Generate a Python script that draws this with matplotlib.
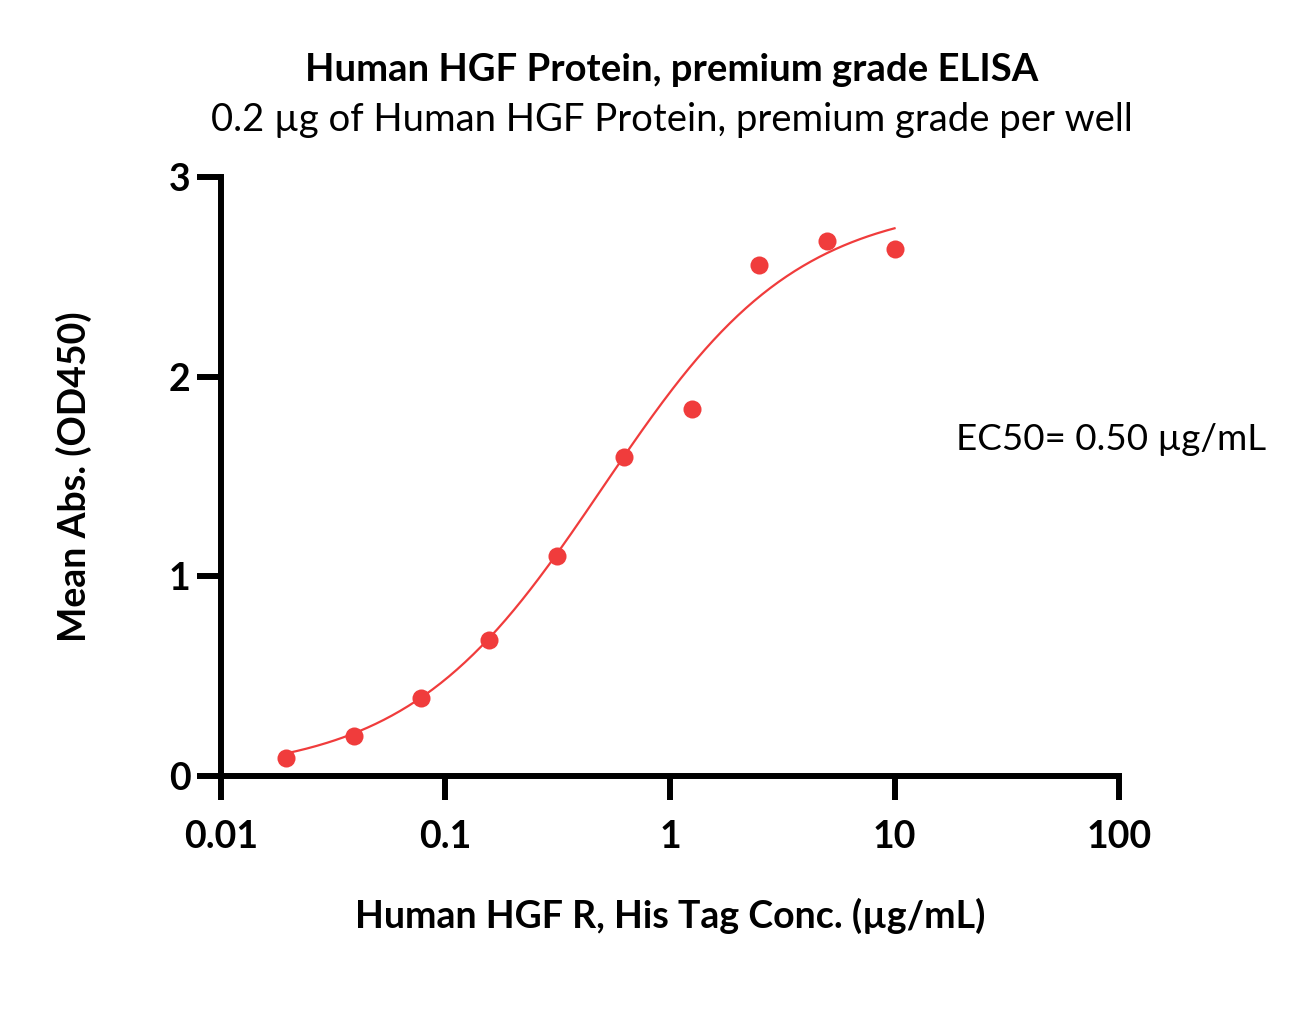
import numpy as np
import matplotlib
matplotlib.use("Agg")
import matplotlib.pyplot as plt

conc = [0.0195, 0.039, 0.078, 0.156, 0.3125, 0.625, 1.25, 2.5, 5.0, 10.0]
absorb = [0.09, 0.20, 0.39, 0.68, 1.10, 1.60, 1.84, 2.56, 2.68, 2.64]

# 4PL fit parameters
bottom, top, ec50, hill = 0.005, 2.88, 0.50, 1.0

x_ticks = [0.01, 0.1, 1, 10, 100]
x_ticklabels = ["0.01", "0.1", "1", "10", "100"]
y_ticks = [0, 1, 2, 3]

plt.rcParams['font.family'] = ['Lato', 'DejaVu Sans']

fig = plt.figure(figsize=(13.09, 10.32), dpi=100)
ax = fig.add_axes([0.1688, 0.2481, 0.6861, 0.5804])

red = '#F03C3C'
xs = np.logspace(np.log10(min(conc)), np.log10(max(conc)), 300)
ys = bottom + (top - bottom) / (1 + (ec50 / xs) ** hill)
ax.plot(xs, ys, color=red, lw=1.6, zorder=2)
ax.plot(conc, absorb, 'o', color=red, markersize=13, markeredgewidth=0, zorder=3)

ax.set_xscale('log')
ax.set_xlim(0.01, 100)
ax.set_ylim(0, 3)
ax.set_xticks(x_ticks)
ax.set_xticklabels(x_ticklabels)
ax.set_yticks(y_ticks)
ax.xaxis.set_minor_locator(matplotlib.ticker.NullLocator())

for s in ['top', 'right']:
    ax.spines[s].set_visible(False)
for s in ['left', 'bottom']:
    ax.spines[s].set_linewidth(4.3)
    ax.spines[s].set_capstyle('projecting')
ax.tick_params(axis='both', width=4.3, length=17, labelsize=27)
ax.tick_params(axis='x', pad=15)
ax.tick_params(axis='y', pad=5)
for lab in ax.get_xticklabels() + ax.get_yticklabels():
    lab.set_fontweight('bold')

ax.set_xlabel('Human HGF R, His Tag Conc. (µg/mL)', fontsize=27, fontweight='bold', labelpad=31)
ax.set_ylabel('Mean Abs. (OD450)', fontsize=27, fontweight='bold', labelpad=55)

fig.text(0.513, 0.932, 'Human HGF Protein, premium grade ELISA', ha='center', va='center',
         fontsize=27.5, fontweight='bold')
fig.text(0.513, 0.884, '0.2 µg of Human HGF Protein, premium grade per well', ha='center', va='center',
         fontsize=27.5)
ax.text(0.8185, 0.562, 'EC50= 0.50 µg/mL', transform=ax.transAxes, fontsize=26.5, ha='left', va='center')

fig.savefig('out.png', dpi=100, facecolor='white')
